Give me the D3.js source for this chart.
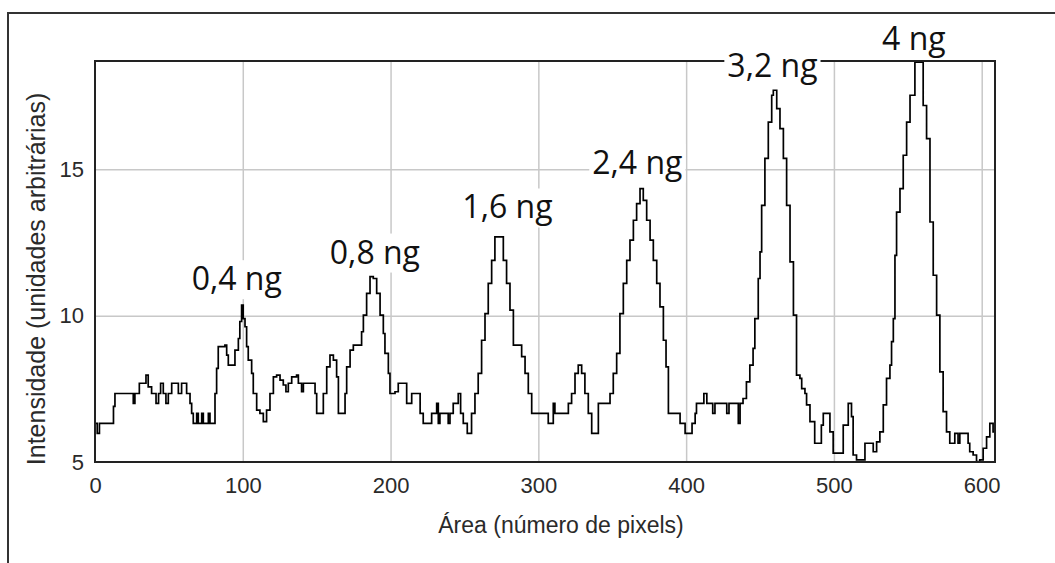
<!DOCTYPE html>
<html>
<head>
<meta charset="utf-8">
<style>
    body { margin: 0; background: #fff; }
    svg { display: block; }

    .grid line { stroke: #c8c8c8; stroke-width: 1.5; }
    .grid .domain { display: none; }

    .axis .domain { display: none; }
    .axis text {
        font-family: 'Liberation Sans', Arial, sans-serif;
        font-size: 22px;
        fill: #2a2a2a;
    }

    .axis-title {
        font-family: 'Liberation Sans', Arial, sans-serif;
        fill: #2a2a2a;
    }

    .peak-label {
        font-family: 'Open Sans', sans-serif;
        font-size: 32px;
        fill: #111;
    }
</style>
</head>
<body>
<svg width="1055" height="563"></svg>

<script src="https://d3js.org/d3.v7.min.js"></script>
<script>
    // ticks
    let xTicks = [0, 100, 200, 300, 400, 500, 600];
    let yTicks = [5, 10, 15];

    // intensity trace, [area in pixels, intensity]
    let trace = [
        [0, 6.32], [1.5, 5.98], [3, 6.32], [11, 6.32], [12.5, 6.9], [13.5, 7.34], [25.5, 7.34], [25.9, 7.0],
        [27, 7.34], [30, 7.69], [34.5, 7.97], [36, 7.57], [38.3, 7.34], [41.3, 7.0], [43, 7.34], [44.4, 7.69],
        [46.2, 7.34], [48, 7.0], [49.6, 7.34], [51.9, 7.69], [55.2, 7.69], [56.4, 7.34], [58.6, 7.69], [60.9, 7.69],
        [62, 7.34], [64.3, 7.0], [65.4, 6.66], [66.5, 6.32], [68.8, 6.66], [69.9, 6.32], [72.2, 6.66], [73.3, 6.32],
        [75.6, 6.32], [76.7, 6.66], [77.8, 6.32], [80.1, 6.32], [81.2, 7.34], [82.3, 8.2], [83.4, 8.94], [87.9, 8.99],
        [89.1, 8.65], [90.2, 8.31], [93.6, 8.31], [94.7, 8.82], [97, 9.22], [98, 9.8], [99.2, 10.36], [100.3, 9.9],
        [101.5, 9.62], [102.6, 8.94], [103.7, 8.48], [106, 8.03], [107.1, 7.34], [109.4, 6.77], [111.6, 6.66], [113.9, 6.38],
        [116.1, 6.77], [118.4, 7.34], [120.7, 7.91], [122.9, 7.97], [125.2, 7.8], [127.4, 7.63], [129.2, 7.4], [130.8, 7.69],
        [133.1, 7.91], [136.4, 7.97], [137.6, 7.69], [139.8, 7.4], [141, 7.69], [147.7, 7.69], [148.9, 7.34], [150, 6.66],
        [152.3, 6.66], [154.5, 7.34], [156.8, 8.25], [159, 8.65], [161.3, 8.48], [163.5, 7.91], [164.7, 6.66], [166.9, 6.66],
        [169.2, 7.34], [170.3, 8.25], [172.6, 8.82], [174.8, 8.99], [178.2, 8.99], [180.4, 9.45], [181.6, 10.02], [183.8, 10.76],
        [186.1, 11.33], [188.3, 11.27], [190.6, 10.76], [192.9, 10.02], [195.1, 9.39], [196.2, 8.71], [198.5, 8.03], [199.6, 7.34],
        [203, 7.4], [205.2, 7.69], [209.7, 7.69], [210.9, 7.0], [214.3, 7.34], [217.7, 7.34], [220, 6.66], [222.1, 6.32],
        [226.6, 6.32], [227.8, 6.66], [231.2, 7.0], [232.3, 6.32], [233.4, 6.66], [236.8, 6.66], [239, 6.32], [240.2, 6.66],
        [242.4, 7.0], [245.8, 7.34], [247.4, 6.66], [249.2, 6.32], [251.9, 5.98], [254.8, 6.66], [257.1, 7.34], [259.3, 8.03],
        [261.6, 9.16], [263.9, 10.07], [266.1, 11.1], [268.4, 11.89], [270.6, 12.69], [274, 12.69], [276.3, 11.89], [278.5, 11.1],
        [280.8, 10.19], [283.1, 8.99], [286.4, 8.99], [288.7, 8.6], [291, 8.03], [293.2, 7.34], [295.5, 6.66], [305.6, 6.66],
        [306.7, 6.32], [309, 6.32], [310.1, 7.0], [311.2, 6.66], [318, 6.66], [320.3, 7.0], [322.5, 7.34], [324.8, 8.03],
        [327, 8.31], [329.3, 8.03], [331.5, 7.34], [333.8, 6.66], [336.1, 5.98], [338.3, 5.98], [340.6, 7.0], [347.3, 7.0],
        [348.5, 7.34], [350.7, 8.03], [353, 8.71], [355.2, 10.07], [357.5, 11.1], [359.8, 11.89], [362, 12.58], [364.3, 13.26],
        [366.5, 13.83], [368.8, 14.34], [371, 13.94], [373.3, 13.26], [375.6, 12.58], [377.8, 11.89], [380.1, 11.1], [382.3, 10.3],
        [384.6, 9.16], [386.4, 8.25], [388, 6.66], [393.6, 6.66], [395.9, 6.32], [399.3, 5.98], [402.7, 5.98], [404, 6.32],
        [406.1, 6.66], [407, 7.0], [410, 7.0], [412, 7.34], [414, 7.0], [418, 6.66], [419.5, 7.0], [426, 7.0],
        [427.5, 6.66], [429, 7.0], [434, 7.0], [435.3, 6.32], [436.5, 7.0], [438.5, 7.17], [440.8, 7.74], [443.1, 8.31],
        [445.3, 8.88], [446.5, 9.9], [448.8, 11.27], [450, 12.18], [451.1, 13.77], [453.3, 15.37], [455.6, 16.61], [457.9, 17.53],
        [459, 17.7], [461.3, 17.07], [463.5, 16.39], [465.8, 15.37], [468, 13.77], [470.3, 11.84], [472.6, 10.02], [474.7, 7.97],
        [477, 7.86], [478.2, 7.51], [480.4, 7.34], [481.5, 6.95], [483.8, 6.38], [487, 5.64], [489.3, 5.64], [491.5, 6.26],
        [492.8, 6.66], [495, 6.66], [497.3, 6.03], [499.5, 5.3], [505.2, 5.3], [506.3, 6.26], [509.7, 7.0], [511.9, 6.55],
        [513, 5.24], [515.3, 5.07], [518.7, 5.07], [521, 5.64], [525.5, 5.64], [526.6, 5.35], [528.9, 5.69], [531.1, 6.03],
        [533.4, 6.95], [535.6, 7.86], [537.9, 8.31], [539, 9.11], [540.2, 9.9], [541.3, 12.06], [542.4, 13.54], [544.7, 14.34],
        [546.9, 15.48], [549.2, 16.61], [551.5, 17.53], [554.8, 18.66], [558.2, 18.66], [560.4, 17.18], [562.7, 16.05], [565, 13.2],
        [567.2, 11.38], [569.5, 10.02], [571.7, 8.08], [573.9, 6.72], [576.2, 6.03], [578.4, 5.64], [581.8, 5.98], [584, 5.64],
        [585.2, 5.98], [589.7, 5.98], [590.8, 5.64], [591.9, 5.35], [594.2, 5.24], [596.5, 5.01], [598.7, 5.07], [601, 5.47],
        [603.3, 5.86], [605.5, 6.32], [607.7, 6.03], [609, 5.92]
    ];

    // peak annotations (anchored in data units)
    let peakLabels = ["0,4 ng", "0,8 ng", "1,6 ng", "2,4 ng", "3,2 ng", "4 ng"];
    let peakLabelArea = [95.9, 189.4, 279.1, 367, 458.4, 554.1];
    let peakLabelIntensity = [10.87, 11.78, 13.32, 14.85, 18.17, 19.08];

    let svg = d3.select("svg");

    let margin = { top: 61, right: 60, bottom: 101, left: 95 };
    let width = 1055;
    let height = 563;

    let x = d3.scaleLinear()
        .domain([0, 609])
        .range([margin.left, width - margin.right]);

    let y = d3.scaleLinear()
        .domain([5, 18.7])
        .range([height - margin.bottom, margin.top]);

    // outer frame
    svg.append("rect")
        .attr("x", 8)
        .attr("y", 13)
        .attr("width", 1200)
        .attr("height", 700)
        .attr("fill", "none")
        .attr("stroke", "#333")
        .attr("stroke-width", 2);

    // grid
    svg.append("g")
        .attr("class", "grid")
        .attr("transform", `translate(0,${height - margin.bottom})`)
        .call(d3.axisBottom(x).tickValues(xTicks.slice(1)).tickSize(-(y.range()[0] - y.range()[1])).tickFormat(""));

    svg.append("g")
        .attr("class", "grid")
        .attr("transform", `translate(${margin.left},0)`)
        .call(d3.axisLeft(y).tickValues([10, 15]).tickSize(-(x.range()[1] - x.range()[0])).tickFormat(""));

    // axes labels
    svg.append("g")
        .attr("class", "axis")
        .attr("transform", `translate(0,${height - margin.bottom})`)
        .call(d3.axisBottom(x).tickValues(xTicks).tickSize(0).tickPadding(15))
        .attr("font-family", null).attr("font-size", null);

    svg.append("g")
        .attr("class", "axis")
        .attr("transform", `translate(${margin.left},0)`)
        .call(d3.axisLeft(y).tickValues(yTicks).tickSize(0).tickPadding(11))
        .attr("font-family", null).attr("font-size", null);

    // clip for the trace
    svg.append("clipPath")
        .attr("id", "plot-clip")
        .append("rect")
        .attr("x", x.range()[0])
        .attr("y", y.range()[1])
        .attr("width", x.range()[1] - x.range()[0])
        .attr("height", y.range()[0] - y.range()[1]);

    let line = d3.line()
        .x(d => x(d[0]))
        .y(d => y(d[1]))
        .curve(d3.curveStepAfter);

    svg.append("path")
        .datum(trace)
        .attr("clip-path", "url(#plot-clip)")
        .attr("fill", "none")
        .attr("stroke", "#000")
        .attr("stroke-width", 1.7)
        .attr("d", line);

    // plot frame
    svg.append("rect")
        .attr("x", x.range()[0])
        .attr("y", y.range()[1])
        .attr("width", x.range()[1] - x.range()[0])
        .attr("height", y.range()[0] - y.range()[1])
        .attr("fill", "none")
        .attr("stroke", "#222")
        .attr("stroke-width", 2);

    // axis titles
    svg.append("text")
        .attr("class", "axis-title")
        .attr("x", 561)
        .attr("y", 533)
        .attr("text-anchor", "middle")
        .style("font-size", "23px")
        .text("Área (número de pixels)");

    svg.append("text")
        .attr("class", "axis-title")
        .attr("transform", "translate(36,279) rotate(-90)")
        .attr("dy", "0.35em")
        .attr("text-anchor", "middle")
        .style("font-size", "25px")
        .text("Intensidade (unidades arbitrárias)");

    // peak labels with white backing
    let labels = svg.append("g");
    peakLabels.forEach(function (txt, i) {
        let g = labels.append("g");
        let bg = g.append("rect").attr("fill", "#fff");
        let t = g.append("text")
            .attr("class", "peak-label")
            .attr("x", x(peakLabelArea[i]))
            .attr("y", y(peakLabelIntensity[i]))
            .attr("text-anchor", "middle")
            .text(txt);
        let b = t.node().getBBox();
        bg.attr("x", b.x - 3)
            .attr("y", b.y + 4)
            .attr("width", b.width + 6)
            .attr("height", b.height - 4);
    });
</script>
</body>
</html>
